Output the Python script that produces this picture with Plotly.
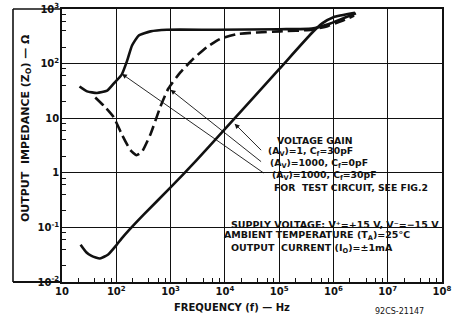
import plotly.graph_objects as go

# ---------------- data ----------------
# Av = 1000, Cf = 30 pF  (solid)
f_a1000_cf30 = [21, 29, 44, 68, 95, 126, 158, 195, 257, 427, 851, 7080, 1.0e5, 4.0e5, 8.0e5, 1.6e6, 2.6e6]
z_a1000_cf30 = [38, 31, 29, 32, 46, 63, 112, 214, 324, 389, 417, 417, 427, 437, 525, 692, 832]

# Av = 1000, Cf = 0 pF  (dashed)
f_a1000_cf0 = [41, 60, 89, 126, 182, 234, 295, 427, 646, 912, 1514, 2630, 4677, 8130, 16600, 38900, 1.05e5, 4.0e5, 8.0e5, 1.6e6, 2.4e6]
z_a1000_cf0 = [24, 16.6, 10.5, 5.1, 2.6, 2.1, 2.4, 5.1, 16, 35, 69, 123, 200, 282, 347, 372, 389, 417, 490, 631, 759]

# Av = 1, Cf = 30 pF  (solid, low curve + diagonal)
f_a1_cf30 = [22, 28, 35, 50, 71, 100, 126, 178, 316, 1000, 3020, 1.0e4, 1.0e5, 4.0e5, 6.3e5, 1.0e6, 2.5e6]
z_a1_cf30 = [0.048, 0.035, 0.030, 0.027, 0.032, 0.047, 0.063, 0.093, 0.17, 0.54, 1.7, 6.3, 79, 363, 550, 708, 851]

x_tickvals = [10, 1e2, 1e3, 1e4, 1e5, 1e6, 1e7, 1e8]
x_ticktext = ["10", "10<sup>2</sup>", "10<sup>3</sup>", "10<sup>4</sup>", "10<sup>5</sup>",
              "10<sup>6</sup>", "10<sup>7</sup>", "10<sup>8</sup>"]
y_tickvals = [1e-2, 1e-1, 1, 10, 1e2, 1e3]
y_ticktext = ["10<sup>-2</sup>", "10<sup>-1</sup>", "1", "10", "10<sup>2</sup>", "10<sup>3</sup>"]
minor_digits = [2, 4, 6, 8]

legend_lines = ["VOLTAGE GAIN",
                "(A<sub>V</sub>)=1, C<sub>f</sub>=30pF",
                "(A<sub>V</sub>)=1000, C<sub>f</sub>=0pF",
                "(A<sub>V</sub>)=1000, C<sub>f</sub>=30pF",
                "FOR  TEST CIRCUIT, SEE FIG.2"]
cond_lines = ["SUPPLY VOLTAGE: V⁺=+15 V, V⁻=−15 V",
              "AMBIENT TEMPERATURE (T<sub>A</sub>)=25°C",
              "OUTPUT  CURRENT (I<sub>O</sub>)=±1mA"]

# ---------------- layout helpers ----------------
W, H = 460, 320
L, R, T, B = 62, 442, 9, 282


def xp(px):
    return (px - L) / (R - L)


def yp(py):
    return (B - py) / (B - T)


FONT = "DejaVu Sans"
ink = "#111111"

fig = go.Figure()
common = dict(mode="lines", hoverinfo="skip", showlegend=False)
fig.add_trace(go.Scatter(x=f_a1000_cf30, y=z_a1000_cf30, line=dict(color=ink, width=2.6, shape="spline", smoothing=0.5), **common))
fig.add_trace(go.Scatter(x=f_a1000_cf0, y=z_a1000_cf0, line=dict(color=ink, width=2.6, dash="11px,5px", shape="spline", smoothing=0.5), **common))
fig.add_trace(go.Scatter(x=f_a1_cf30, y=z_a1_cf30, line=dict(color=ink, width=2.6, shape="spline", smoothing=0.5), **common))

minor_x = [d * 10 ** k for k in range(1, 8) for d in minor_digits]
minor_y = [d * 10.0 ** k for k in range(-2, 3) for d in minor_digits]

axis_common = dict(type="log", showgrid=True, gridcolor=ink, gridwidth=1, automargin=False,
                   showline=True, linecolor=ink, linewidth=1.8, mirror=True,
                   ticks="inside", ticklen=6, tickcolor=ink, tickwidth=1,
                   tickfont=dict(family=FONT, size=10, color=ink, weight="bold"), zeroline=False)

fig.update_xaxes(range=[1, 8], tickvals=x_tickvals, ticktext=x_ticktext, ticklabelstandoff=-1,
                 minor=dict(tickvals=minor_x, ticks="inside", ticklen=4, tickcolor=ink, showgrid=False),
                 **axis_common)
fig.update_yaxes(range=[-2, 3], tickvals=y_tickvals, ticktext=y_ticktext, ticklabelstandoff=-1,
                 minor=dict(tickvals=minor_y, ticks="inside", ticklen=4, tickcolor=ink, showgrid=False),
                 **axis_common)

shapes = [
    # white boxes behind the text blocks (hide gridlines)
    dict(type="rect", xref="paper", yref="paper", x0=xp(240), x1=1, y0=yp(200), y1=yp(133),
         fillcolor="white", line=dict(width=0), layer="between"),
    dict(type="rect", xref="paper", yref="paper", x0=xp(226), x1=1, y0=yp(274), y1=yp(200),
         fillcolor="white", line=dict(width=0), layer="between"),
    # frame round the y title
    dict(type="line", xref="paper", yref="paper", x0=xp(13), x1=0, y0=1, y1=1, line=dict(color=ink, width=1.6)),
    dict(type="line", xref="paper", yref="paper", x0=xp(13), x1=0, y0=0, y1=0, line=dict(color=ink, width=1.8)),
    dict(type="line", xref="paper", yref="paper", x0=xp(13), x1=xp(13), y0=0, y1=1, line=dict(color=ink, width=1.6)),
]

ann = []
tf = dict(family=FONT, size=9.3, color=ink, weight="bold")
leg_pos = [(275, 140), (266, 151.5), (268, 163.5), (270, 175.5), (272, 187.5)]
for txt, (px, py) in zip(legend_lines, leg_pos):
    ann.append(dict(text=txt, xref="paper", yref="paper", x=xp(px), y=yp(py), xanchor="left", yanchor="middle",
                    showarrow=False, font=tf))
cf = dict(family=FONT, size=9.5, color=ink, weight="bold")
cond_pos = [(229, 224), (222, 236), (229, 248)]
for txt, (px, py) in zip(cond_lines, cond_pos):
    ann.append(dict(text=txt, xref="paper", yref="paper", x=xp(px), y=yp(py), xanchor="left", yanchor="middle",
                    showarrow=False, font=cf))

# leader arrows: head on curve (log10 coords), tail offset in pixels
arrows = [((2.105, 1.81), (143, 100)),
          ((3.0, 1.52), (92, 73)),
          ((4.18, 0.90), (28, 28))]
for (hx, hy), (dx, dy) in arrows:
    ann.append(dict(x=hx, y=hy, xref="x", yref="y", ax=dx, ay=dy, axref="pixel", ayref="pixel",
                    text="", showarrow=True, arrowhead=2, arrowsize=1.1, arrowwidth=0.9, arrowcolor=ink,
                    standoff=0, startstandoff=0))

ann.append(dict(text="OUTPUT  IMPEDANCE (Z<sub>O</sub>) — Ω", xref="paper", yref="paper", x=xp(26), y=yp(128),
                textangle=-90, showarrow=False, xanchor="center", yanchor="middle",
                font=dict(family=FONT, size=11, color=ink, weight="bold")))
ann.append(dict(text="FREQUENCY (f) — Hz", xref="paper", yref="paper", x=xp(232), y=yp(307),
                showarrow=False, xanchor="center", yanchor="middle",
                font=dict(family=FONT, size=10, color=ink, weight="bold")))
ann.append(dict(text="92CS-21147", xref="paper", yref="paper", x=xp(399), y=yp(311),
                showarrow=False, xanchor="center", yanchor="middle", font=dict(family=FONT, size=8, color=ink)))

fig.update_layout(width=W, height=H, autosize=False,
                  margin=dict(l=L, r=W - R, t=T, b=H - B),
                  paper_bgcolor="white", plot_bgcolor="white",
                  shapes=shapes, annotations=ann, showlegend=False)

fig.write_html("out.html", config={"displayModeBar": False, "staticPlot": True})

# remove the browser's default page margin so the figure sits at the window's corner
with open("out.html", "r", encoding="utf-8") as fh:
    page = fh.read()
page = page.replace("<body>", '<body style="margin:0;padding:0;overflow:hidden">', 1)
with open("out.html", "w", encoding="utf-8") as fh:
    fh.write(page)
